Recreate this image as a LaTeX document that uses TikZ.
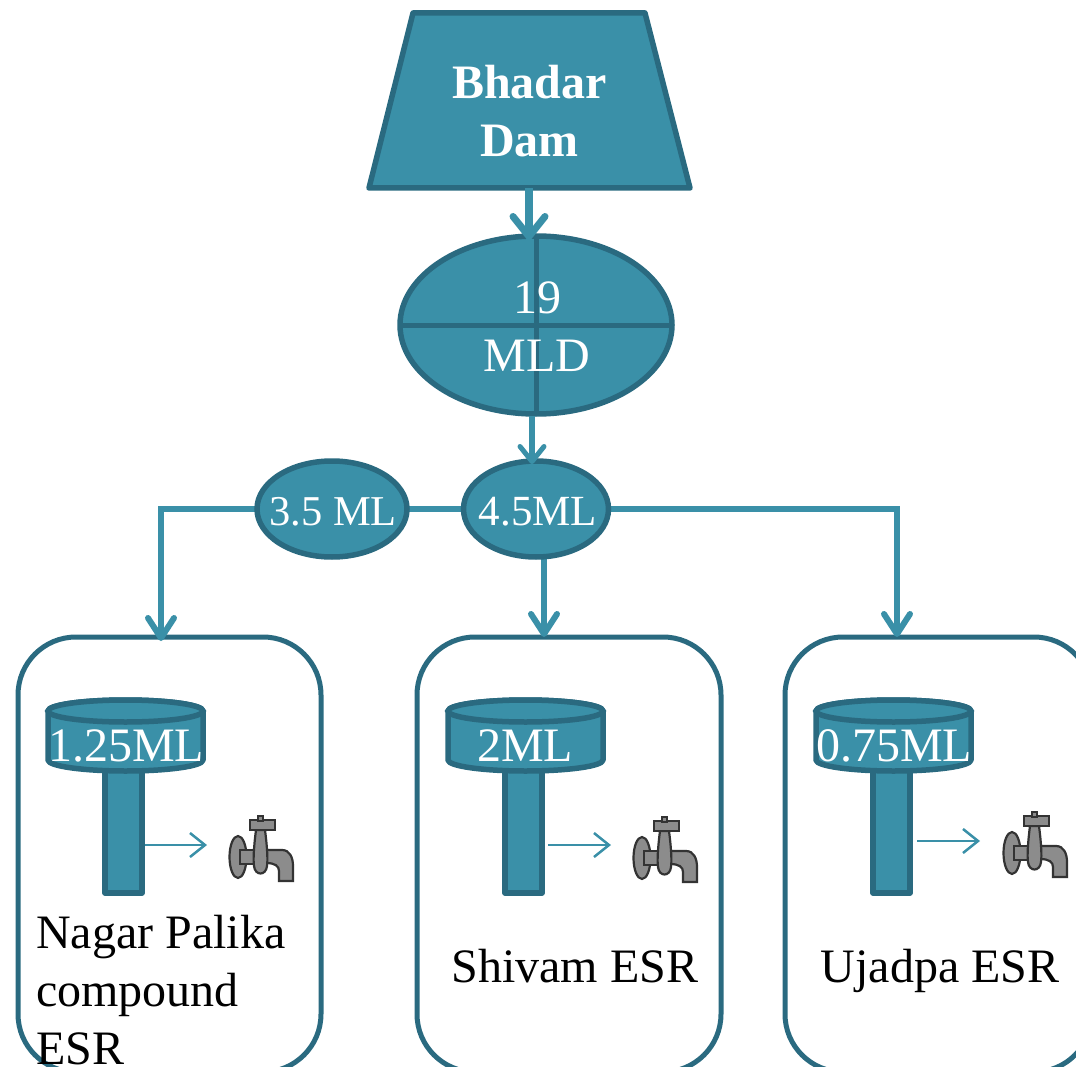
\documentclass[tikz,border=0pt]{standalone}
\usepackage{fontspec}
\setmainfont{Liberation Serif}
\usetikzlibrary{arrows.meta,shapes.geometric,calc}
\definecolor{tealfill}{HTML}{3A90A8}
\definecolor{tealdark}{HTML}{2A6A80}
\definecolor{tapgray}{HTML}{8C8C8C}
\definecolor{tapdark}{HTML}{333333}
\tikzset{
  x=1pt,y=-1pt,
  shapefill/.style={fill=tealfill,draw=tealdark,line width=5.5pt,inner sep=0pt,outer sep=0pt},
  panel/.style={draw=tealdark,line width=5pt,rounded corners=58pt,fill=white},
  flow/.style={draw=tealfill,line width=6pt,-{Straight Barb[length=20pt,width=26pt,round,line width=6pt]}},
  flowplain/.style={draw=tealfill,line width=6pt},
  thinflow/.style={draw=tealfill,line width=2.5pt,-{Straight Barb[length=15pt,width=24pt,line width=2.5pt]}},
  caption/.style={text=black,font=\fontsize{48}{58}\selectfont,inner sep=0pt,align=left},
  tanklabel/.style={text=white,font=\fontsize{48}{58}\selectfont,inner sep=0pt},
  tapline/.style={draw=tapdark,fill=tapgray,line width=2.2pt},
  tap/.pic={
    \path[tapline] (28,57) ellipse [x radius=8.5,y radius=21];
    \path[tapline] (30,50) rectangle (46,64);
    \path[tapline] (56,50) -- (72,50) .. controls (80,50) and (83,58) .. (83,66)
       -- (83,81) -- (69,81) -- (69,71) .. controls (69,66) and (65,63) .. (56,63) -- cycle;
    \path[tapline] (46,30) -- (55,30) .. controls (57,45) and (58,60) .. (57,66)
       .. controls (56,76) and (45,76) .. (44,66) .. controls (43,60) and (44,45) .. (46,30) -- cycle;
    \path[tapline] (40,20) rectangle (65,30);
    \path[tapline] (48,16) rectangle (53,21);
  },
  tower/.pic={
    \path[fill=tealfill,draw=tealdark,line width=5.5pt,line join=round] (57,65) rectangle (94,193);
    \path[fill=tealfill,draw=tealdark,line width=5.5pt,line join=round]
       (0,11) -- (0,60) arc [start angle=180,end angle=360,x radius=77.5,y radius=-11]
       -- (155,11) arc [start angle=0,end angle=180,x radius=77.5,y radius=-11] -- cycle;
    \path[fill=tealfill,draw=tealdark,line width=5.5pt] (77.5,11) ellipse [x radius=77.5,y radius=11];
  }
}
\begin{document}
\begin{tikzpicture}
\path[use as bounding box] (0,0) rectangle (1076,1067);
\clip (0,0) rectangle (1076,1067);

% panels
\draw[panel] (18,637) rectangle (321,1072);
\draw[panel] (417,637) rectangle (721,1072);
\draw[panel] (785,637) rectangle (1092,1072);
\coordinate (p1) at (161,641);
\coordinate (p2) at (544,637);
\coordinate (p3) at (897,637);

% towers
\pic at (48,700) {tower};
\pic at (448,700) {tower};
\pic at (816,700) {tower};
\node[tanklabel] (t1) at (126,746) {1.25ML};
\node[tanklabel] (t2) at (525,746) {2ML};
\node[tanklabel] (t3) at (894,746) {0.75ML};

% taps and their arrows
\pic at (210,800) {tap};
\pic at (614,801) {tap};
\pic at (984,796) {tap};
\coordinate (a1s) at (145,845); \coordinate (a1e) at (207,845);
\coordinate (a2s) at (548,845); \coordinate (a2e) at (611,845);
\coordinate (a3s) at (917,841); \coordinate (a3e) at (980,841);
\draw[thinflow] (a1s) -- (a1e);
\draw[thinflow] (a2s) -- (a2e);
\draw[thinflow] (a3s) -- (a3e);

% captions
\node[caption,anchor=base west] (c1) at (36,1064) {Nagar Palika\\compound\\ESR};
\node[caption,anchor=base] (c2) at (575,982) {Shivam ESR};
\node[caption,anchor=base] (c3) at (940,982) {Ujadpa ESR};

% main shapes
\draw[fill=tealfill,draw=tealdark,line width=5.5pt,line join=round]
   (413,13) -- (645,13) -- (690,188) -- (369,188) -- cycle;
\coordinate (damS) at (529,188);
\node[text=white,font=\bfseries\fontsize{48}{58}\selectfont,align=center,inner sep=0pt] (dam) at (529.5,111) {Bhadar\\Dam};
\node[shapefill,ellipse,minimum width=272pt,minimum height=178pt] (big) at (536,325) {};
\draw[tealdark,line width=5pt] (big.west) -- (big.east);
\draw[tealdark,line width=5pt] (big.north) -- (big.south);
\node[text=white,font=\fontsize{48}{58}\selectfont,align=center,inner sep=0pt] (biglabel) at (537,327) {19\\MLD};

% connectors
\draw[flow] (332,509) -| (p1);
\draw[flowplain] (332,509) -- (536,509);
\draw[flow] (536,509) -| (p3);
\draw[flow] (544,540) -- (p2);

\node[shapefill,ellipse,minimum width=150pt,minimum height=96pt] (m35) at (332,509) {};
\node[text=white,font=\fontsize{42.5}{50}\selectfont,inner sep=0pt] at (333,512) {3.5 ML};
\node[shapefill,ellipse,minimum width=145pt,minimum height=96pt] (m45) at (536,509) {};
\node[text=white,font=\fontsize{43}{50}\selectfont,inner sep=0pt] at (538,512) {4.5ML};

\draw[draw=tealfill,line width=8pt,-{Straight Barb[length=20pt,width=32pt,round,line width=7pt]}] (damS) -- ($(damS |- big.north)+(0,4)$);
\draw[draw=tealfill,line width=6pt,-{Straight Barb[length=15pt,width=24pt,round,line width=5pt]}] (532,416) -- (532,464);
\end{tikzpicture}
\end{document}
